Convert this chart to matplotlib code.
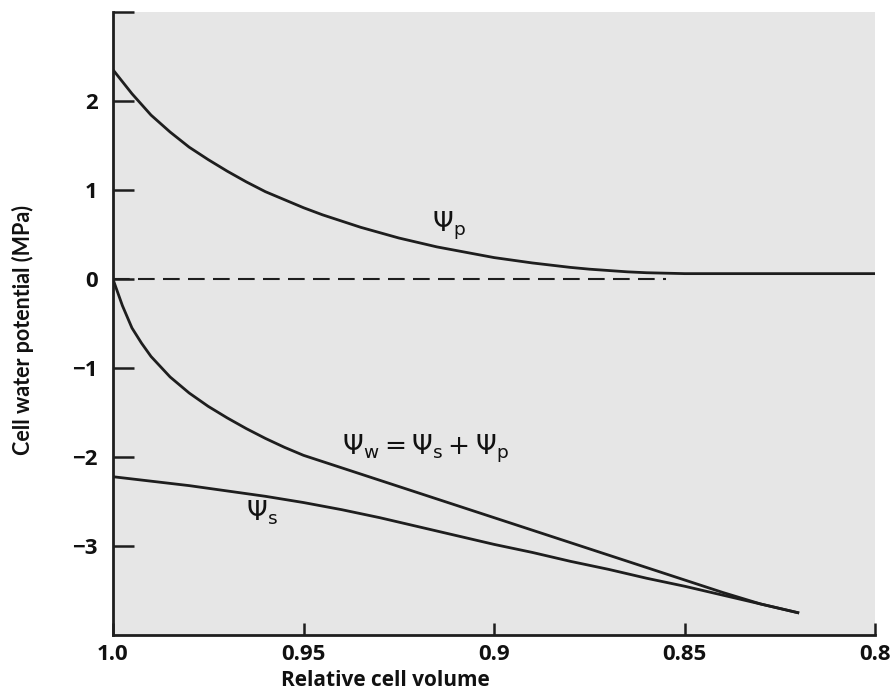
import matplotlib
matplotlib.use("Agg")
import matplotlib.pyplot as plt

# ---- data ----
volume_p = [1.0, 0.995, 0.99, 0.985, 0.98, 0.975, 0.97, 0.965, 0.96, 0.955, 0.95, 0.945, 0.94, 0.935,
            0.93, 0.925, 0.92, 0.915, 0.91, 0.905, 0.90, 0.895, 0.89, 0.885, 0.88, 0.875, 0.87, 0.865,
            0.86, 0.855, 0.85, 0.80]
psi_p = [2.35, 2.08, 1.84, 1.65, 1.48, 1.34, 1.21, 1.09, 0.98, 0.89, 0.80, 0.72, 0.65, 0.58,
         0.52, 0.46, 0.41, 0.36, 0.32, 0.28, 0.24, 0.21, 0.18, 0.155, 0.13, 0.11, 0.095, 0.08,
         0.07, 0.065, 0.06, 0.06]

volume_w = [1.0, 0.9975, 0.995, 0.9925, 0.99, 0.985, 0.98, 0.975, 0.97, 0.965, 0.96, 0.955, 0.95,
            0.945, 0.94, 0.93, 0.92, 0.91, 0.90, 0.89, 0.88, 0.87, 0.86, 0.85, 0.84, 0.83, 0.82]
psi_w = [0.0, -0.30, -0.55, -0.72, -0.87, -1.10, -1.28, -1.43, -1.56, -1.68, -1.79, -1.89, -1.98,
         -2.05, -2.12, -2.26, -2.40, -2.54, -2.68, -2.82, -2.96, -3.10, -3.24, -3.38, -3.52, -3.65, -3.75]

volume_s = [1.0, 0.99, 0.98, 0.97, 0.96, 0.95, 0.94, 0.93, 0.92, 0.91, 0.90, 0.89, 0.88, 0.87,
            0.86, 0.85, 0.84, 0.83, 0.82]
psi_s = [-2.22, -2.27, -2.32, -2.38, -2.44, -2.51, -2.59, -2.68, -2.78, -2.88, -2.98, -3.07, -3.17,
         -3.26, -3.36, -3.45, -3.55, -3.65, -3.75]

zero_line_x = [1.0, 0.855]
zero_line_y = [0.0, 0.0]

x_ticks = [1.0, 0.95, 0.9, 0.85, 0.8]
x_ticklabels = ["1.0", "0.95", "0.9", "0.85", "0.8"]
y_ticks = [-3, -2, -1, 0, 1, 2, 3]
y_ticklabels = ["\u22123", "\u22122", "\u22121", "0", "1", "2", ""]

# ---- figure ----
plt.rcParams["mathtext.fontset"] = "custom"
plt.rcParams["mathtext.rm"] = "DejaVu Sans"
plt.rcParams["mathtext.it"] = "DejaVu Sans:italic"
plt.rcParams["mathtext.bf"] = "DejaVu Sans:bold"
fig = plt.figure(figsize=(8.96, 6.92), dpi=100, facecolor="white")
ax = fig.add_axes([0.126, 0.082, 0.851, 0.901])
ax.set_facecolor("#e6e6e6")

lc = "#1e1e1e"
ax.plot(volume_p, psi_p, color=lc, lw=2.0, solid_capstyle="butt", solid_joinstyle="round")
ax.plot(volume_w, psi_w, color=lc, lw=2.0, solid_capstyle="butt", solid_joinstyle="round")
ax.plot(volume_s, psi_s, color=lc, lw=2.0, solid_capstyle="butt", solid_joinstyle="round")
ax.plot(zero_line_x, zero_line_y, color=lc, lw=1.5, ls=(0, (8, 4)))

ax.set_xlim(1.0, 0.8)
ax.set_ylim(-4.0, 3.0)

for s in ["top", "right"]:
    ax.spines[s].set_visible(False)
for s in ["left", "bottom"]:
    ax.spines[s].set_linewidth(2.0)
    ax.spines[s].set_color(lc)

ax.set_xticks(x_ticks)
ax.set_xticklabels(x_ticklabels)
ax.set_yticks(y_ticks)
ax.set_yticklabels(y_ticklabels)
ax.tick_params(axis="y", direction="in", length=15, width=1.8, color=lc, pad=11, labelsize=16)
ax.tick_params(axis="x", direction="in", length=9, width=1.8, color=lc, pad=6, labelsize=16)
for lab in ax.get_xticklabels() + ax.get_yticklabels():
    lab.set_fontweight("bold")
    lab.set_family("Open Sans")
    lab.set_color("#111111")

ax.set_xlabel("Relative cell volume", fontsize=15, fontweight="bold", family="Open Sans", color="#111111")
ax.xaxis.label.set_va("center")
ax.xaxis.set_label_coords(0.357, -0.072)
ax.set_ylabel("Cell water potential (MPa)", fontsize=15.5, fontweight="bold",
              family=["Lato", "DejaVu Sans"], color="#111111")
ax.yaxis.label.set_va("center")
ax.yaxis.set_label_coords(-0.118, 0.49)

tc = "#111111"
ax.text(0.912, 0.60, r"$\mathit{Ψ}_\mathrm{p}$", fontsize=19, ha="center", va="center", color=tc)
ax.text(0.918, -1.91, r"$\mathit{Ψ}_\mathrm{w} = \mathit{Ψ}_\mathrm{s} + \mathit{Ψ}_\mathrm{p}$",
        fontsize=19, ha="center", va="center", color=tc)
ax.text(0.961, -2.63, r"$\mathit{Ψ}_\mathrm{s}$", fontsize=19, ha="center", va="center", color=tc)

fig.savefig("out.png", dpi=100, facecolor="white")
